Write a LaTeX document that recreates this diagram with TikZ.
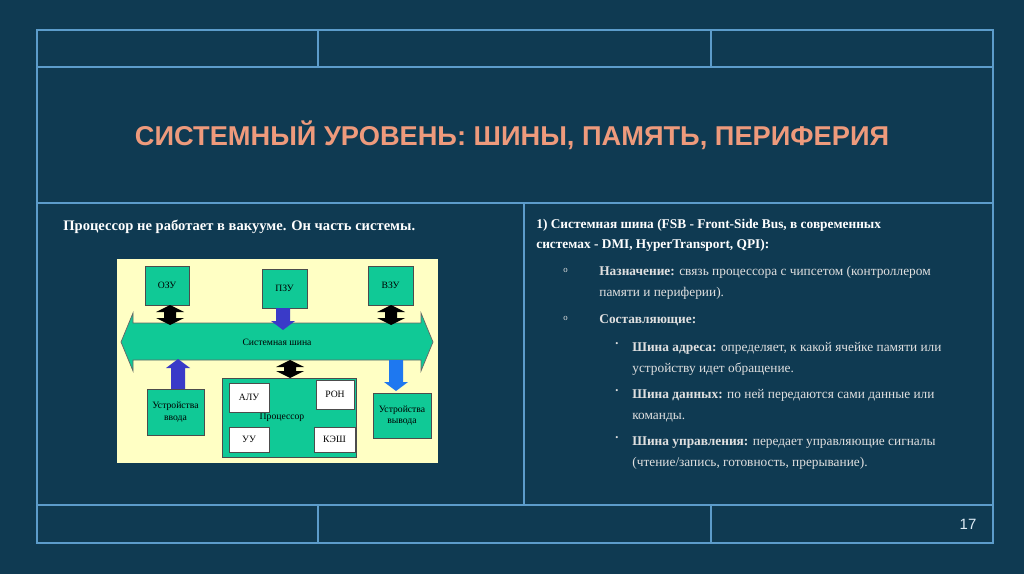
\documentclass[tikz,border=0pt]{standalone}
\usepackage{fontspec}
\setmainfont{Liberation Serif}
\newfontfamily\titlefont{Liberation Sans}
\definecolor{bg}{HTML}{0F3A52}
\definecolor{grid}{HTML}{5C9CCB}
\definecolor{ttl}{HTML}{EE9A7C}
\definecolor{pale}{HTML}{FFFFC4}
\definecolor{grn}{HTML}{10C996}
\definecolor{darkb}{HTML}{3A3AC8}
\definecolor{lightb}{HTML}{1E78F0}
\newcommand\dblarr[3]{\fill[black] (#1-6,#2+7)--(#1-14,#2+7)--(#1,#2)--(#1+14,#2+7)--(#1+6,#2+7)--(#1+6,#3-7)--(#1+14,#3-7)--(#1,#3)--(#1-14,#3-7)--(#1-6,#3-7)--cycle;}
\newcommand\sglarr[4]{\fill[#4] (#1-7,#2)--(#1+7,#2)--(#1+7,#3-9)--(#1+12,#3-9)--(#1,#3)--(#1-12,#3-9)--(#1-7,#3-9)--cycle;}
\newcommand\uparr[4]{\fill[#4] (#1-7,#2)--(#1+7,#2)--(#1+7,#3+9)--(#1+12,#3+9)--(#1,#3)--(#1-12,#3+9)--(#1-7,#3+9)--cycle;}
\tikzset{
  gbox/.style={draw=black!70,fill=grn,line width=0.4pt,font=\fontsize{5.5}{6.5}\selectfont,align=center,inner sep=0pt},
  wbox/.style={draw=black!70,fill=white,line width=0.4pt,font=\fontsize{5.5}{6.5}\selectfont,inner sep=0pt},
  txt/.style={text=white,anchor=north west,inner sep=0pt,font=\fontsize{8.6}{11.9}\selectfont,align=left},
}
\begin{document}
\begin{tikzpicture}[x=0.02cm,y=-0.02cm]
\fill[bg] (0,0) rectangle (1024,574);
\useasboundingbox (0,0) rectangle (1024,574);
\begin{scope}[draw=grid,line width=0.9pt]
\draw (37,30) rectangle (993,543);
\draw (37,67)--(993,67) (37,203)--(993,203) (37,505)--(993,505);
\draw (318,30)--(318,67) (711,30)--(711,67) (318,505)--(318,543) (711,505)--(711,543);
\draw (524,203)--(524,505);
\end{scope}
\node[text=ttl,font=\titlefont\bfseries\fontsize{15.5}{18}\selectfont] (title) at (512,135) {СИСТЕМНЫЙ УРОВЕНЬ: ШИНЫ, ПАМЯТЬ, ПЕРИФЕРИЯ};
\node[txt,font=\bfseries\fontsize{8.3}{10}\selectfont] (lt) at (63,220) {Процессор не работает в вакууме. Он часть системы.};
% diagram
\fill[pale] (117,259) rectangle (438,463);
\node[gbox,minimum width=24.9pt,minimum height=22.1pt] (ozu) at (167,285.5) {ОЗУ};
\node[gbox,minimum width=25.5pt,minimum height=22.1pt] (pzu) at (284.5,288.5) {ПЗУ};
\node[gbox,minimum width=25.5pt,minimum height=22.1pt] (vzu) at (390.5,285.5) {ВЗУ};
\filldraw[fill=grn,draw=black!60] (121,342)--(133,313)--(133,323)--(421,323)--(421,313)--(433,342)--(421,371)--(421,360)--(133,360)--(133,371)--cycle;
\node[font=\fontsize{5.5}{6.5}\selectfont] (bus) at (277,342) {Системная шина};
\dblarr{170}{305}{325}
\dblarr{391}{305}{325}
\dblarr{290}{360}{378}
\sglarr{283}{308}{330}{darkb}
\uparr{178}{389}{359}{darkb}
\sglarr{396}{360}{391}{lightb}
\node[gbox,minimum width=32.3pt,minimum height=26.1pt] (in) at (175.5,412) {Устройства\\ввода};
\node[gbox,minimum width=32.9pt,minimum height=25.5pt] (out) at (402,415.5) {Устройства\\вывода};
\node[gbox,minimum width=76.5pt,minimum height=44.8pt] (cpu) at (289.5,417.5) {};
\node[font=\fontsize{5.5}{6.5}\selectfont] (cpul) at (282,417) {Процессор};
\node[wbox,minimum width=22.7pt,minimum height=16.4pt] (alu) at (249,397.5) {АЛУ};
\node[wbox,minimum width=21.5pt,minimum height=16.4pt] (ron) at (335,394.5) {РОН};
\node[wbox,minimum width=22.7pt,minimum height=14.2pt] (uu) at (249,439.5) {УУ};
\node[wbox,minimum width=23.2pt,minimum height=14.2pt] (kesh) at (334.5,439.5) {КЭШ};
% right text
\node[txt,font=\bfseries\fontsize{7.6}{11.3}\selectfont] (rt) at (536,219) {1) Системная шина (FSB - Front-Side Bus, в современных\\системах - DMI, HyperTransport, QPI):};
\begin{scope}[every node/.style={txt,text=white!88!black,font=\fontsize{7.6}{11.9}\selectfont}]
\node (b1m) at (563,268) {\fontsize{5}{6}\selectfont o};
\node (b1) at (599,266) {\textbf{Назначение:} связь процессора с чипсетом (контроллером\\памяти и периферии).};
\node (b2m) at (563,316) {\fontsize{5}{6}\selectfont o};
\node (b2) at (599,314) {\textbf{Составляющие:}};
\node (s1m) at (615,342) {\fontsize{5}{6}\selectfont\textbullet};
\node (s1) at (632,342) {\textbf{Шина адреса:} определяет, к какой ячейке памяти или\\устройству идет обращение.};
\node (s2m) at (615,389) {\fontsize{5}{6}\selectfont\textbullet};
\node (s2) at (632,389) {\textbf{Шина данных:} по ней передаются сами данные или\\команды.};
\node (s3m) at (615,436) {\fontsize{5}{6}\selectfont\textbullet};
\node (s3) at (632,436) {\textbf{Шина управления:} передает управляющие сигналы\\(чтение/запись, готовность, прерывание).};
\end{scope}
\node[text=white!80!grid,font=\titlefont\fontsize{8.5}{10}\selectfont] (pg) at (968,524) {17};
\end{tikzpicture}
\end{document}
